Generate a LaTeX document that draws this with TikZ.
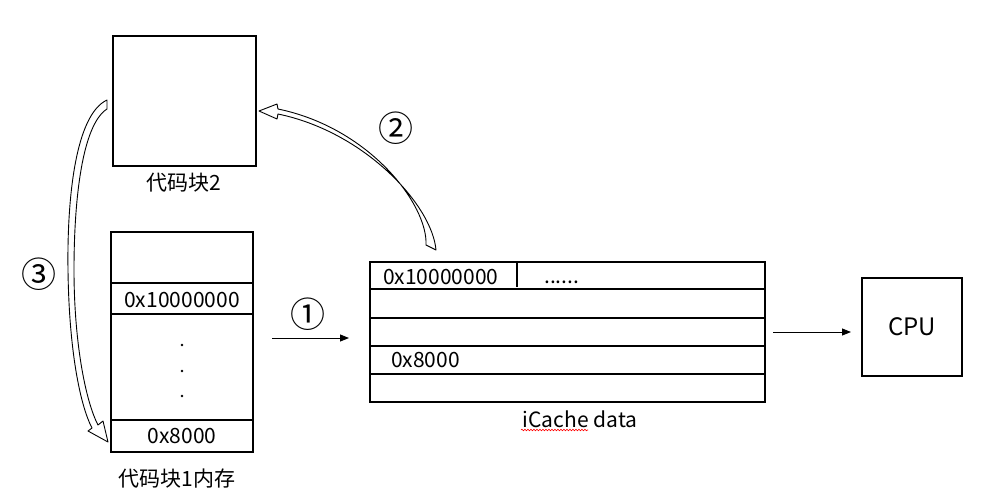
\documentclass[tikz,border=0pt]{standalone}
\usepackage{fontspec}
\setmainfont{Noto Sans CJK SC}
\usetikzlibrary{arrows.meta,decorations.pathmorphing}
\begin{document}
\begin{tikzpicture}[x=1pt,y=-1pt,
  box/.style={draw,line width=1.5pt,inner sep=0pt,outer sep=0pt},
  lbl/.style={font=\fontsize{21}{24}\selectfont,inner sep=0pt},
  num/.style={font=\fontsize{35}{37}\selectfont,inner sep=0pt},
  conn/.style={line width=0.9pt,-{Triangle[length=9pt,width=7pt]}},
  barrow/.style={draw,line width=0.9pt,fill=white,line join=round},
  dotm/.style={circle,fill,inner sep=0pt,minimum size=2.6pt}]
\useasboundingbox[fill=white] (0,0) rectangle (991,501);

% code block 2
\node[box,minimum width=143pt,minimum height=130pt] (cb2) at (184.5,101) {};
\node[lbl] (cb2l) at (184,183) {代码块2};

% memory block 1
\node[box,minimum width=142pt,minimum height=51pt] (m1) at (182,257.5) {};
\node[box,minimum width=142pt,minimum height=31pt] (m2) at (182,298.5) {};
\node[box,minimum width=142pt,minimum height=106pt] (m3) at (182,367) {};
\node[box,minimum width=142pt,minimum height=32pt] (m4) at (182,436) {};
\node[lbl,anchor=base] (m2t) at (182,307) {0x10000000};
\node[lbl,anchor=base] (m4t) at (182,443) {0x8000};
\node[dotm] (d1) at (182,345) {};
\node[dotm] (d2) at (182,371) {};
\node[dotm] (d3) at (182,396) {};
\node[lbl] (meml) at (177,479) {代码块1内存};

% iCache
\node[box,minimum width=395pt,minimum height=27pt] (c1) at (567.5,275.5) {};
\node[box,minimum width=395pt,minimum height=29pt] (c2) at (567.5,303.5) {};
\node[box,minimum width=395pt,minimum height=28pt] (c3) at (567.5,332) {};
\node[box,minimum width=395pt,minimum height=28pt] (c4) at (567.5,360) {};
\node[box,minimum width=395pt,minimum height=28pt] (c5) at (567.5,388) {};
\draw[line width=1.5pt] (517,262) -- (517,287);
\node[lbl,anchor=base west] (c1t) at (383,284) {0x10000000};
\node[lbl,anchor=base west] (c1d) at (544,283) {......};
\node[lbl,anchor=base west] (c4t) at (391,367) {0x8000};
\node[lbl,anchor=base] (cl) at (580,427) {iCache data};
\draw[red,line width=0.6pt,decorate,decoration={snake,amplitude=0.8pt,segment length=3pt}] (521,430) -- (588,430);

% CPU
\node[box,minimum width=100pt,minimum height=98pt,font=\fontsize{24}{28}\selectfont] (cpu) at (912,327) {CPU};

% connectors
\coordinate (a1s) at (272,338);
\coordinate (a1e) at (349,338);
\draw[conn] (a1s) -- (a1e);
\coordinate (a2s) at (773,332);
\coordinate (a2e) at (851,332);
\draw[conn] (a2s) -- (a2e);

% circled numbers
\node[num] (n1) at (308,314) {①};
\node[num] (n2) at (396,128) {②};
\node[num] (n3) at (39,274) {③};

% block arrow 2 (iCache -> code block 2)
\path[barrow] (426,245) .. controls (428,205) and (370,128) .. (278,109)
  -- (277,104) -- (259,111) -- (277,119) -- (278,114)
  .. controls (365,132) and (432,205) .. (436,250) -- cycle;

% block arrow 3 (code block 2 -> memory 0x8000)
\path[barrow] (107,100) .. controls (75,115) and (67,200) .. (68,270)
  .. controls (69,350) and (80,405) .. (92,428)
  -- (88,431) -- (108,442) -- (103,421) -- (98,425)
  .. controls (85,400) and (74,340) .. (74,270)
  .. controls (74,200) and (82,125) .. (107,109) -- cycle;
\end{tikzpicture}
\end{document}
